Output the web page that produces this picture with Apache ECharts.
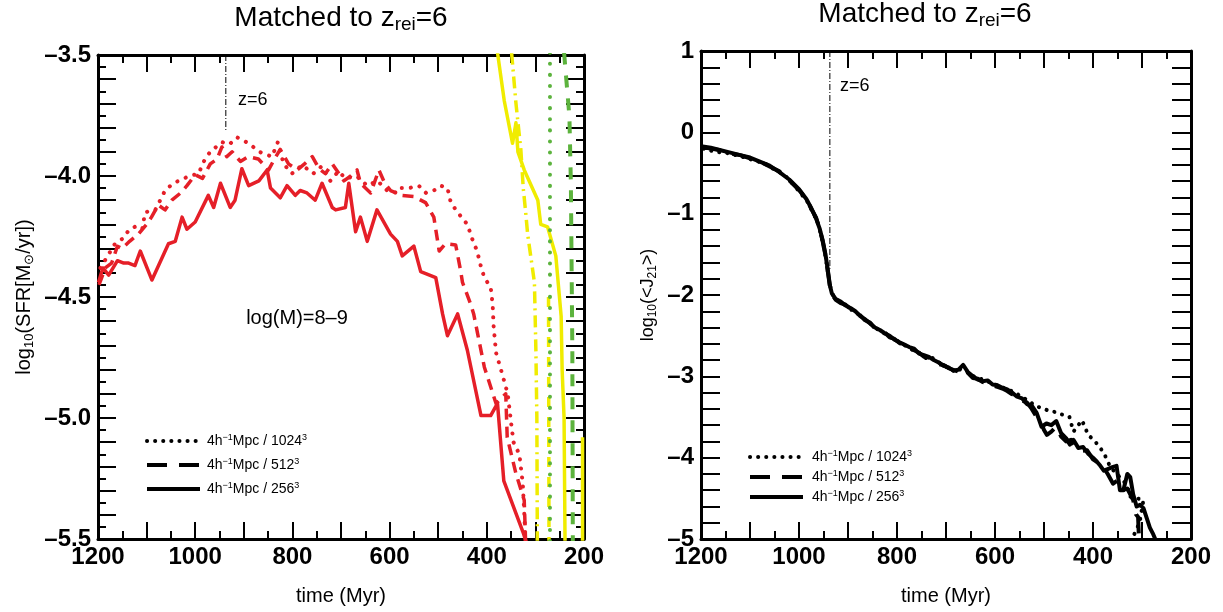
<!DOCTYPE html>
<html>
<head>
<meta charset="utf-8">
<script src="https://cdn.jsdelivr.net/npm/echarts@6/dist/echarts.min.js"></script>
<style>html,body{margin:0;padding:0;background:#fff;}#c{width:1223px;height:612px;}</style>
</head>
<body>
<div id="c"></div>
<script>
const FONT = '"Liberation Sans", Arial, Helvetica, sans-serif';

// ---- tick labels ----
const xLabelValues = [1200, 1000, 800, 600, 400, 200];
const sfrLabelValues = [-3.5, -4.0, -4.5, -5.0, -5.5];
const j21LabelValues = [1, 0, -1, -2, -3, -4, -5];

// ---- legend ----
const legendKeys = ['1024', '512', '256'];
const legendLabels = {
  '1024': '4h{sup|−1}Mpc / 1024{sup|3}',
  '512': '4h{sup|−1}Mpc / 512{sup|3}',
  '256': '4h{sup|−1}Mpc / 256{sup|3}'
};

// ---- z=6 marker ----
const zTime = 937;
const zLineSfr = [[zTime, -3.5], [zTime, -3.81]];
const zLineJ21 = [[zTime, 1], [zTime, -1.68]];

// ---- left panel: log10 SFR, log(M)=8-9 (red) ----
const sfr1024 = [[1195,-4.38],[1180,-4.33],[1165,-4.28],[1150,-4.26],[1135,-4.22],[1124,-4.21],[1109,-4.22],[1103,-4.15],[1082,-4.14],[1062,-4.06],[1045,-4.03],[1034,-4.02],[1012,-4.00],[993,-3.99],[980,-3.93],[969,-3.90],[945,-3.86],[930,-3.87],[914,-3.84],[890,-3.865],[868,-3.90],[842,-3.92],[830,-3.86],[818,-3.95],[801,-3.99],[780,-3.955],[757,-3.99],[740,-3.96],[722,-4.02],[705,-3.98],[691,-4.01],[668,-4.00],[646,-4.04],[625,-4.02],[605,-4.06],[584,-4.07],[577,-4.05],[560,-4.05],[540,-4.04],[525,-4.07],[509,-4.06],[495,-4.04],[481,-4.05],[474,-4.11],[460,-4.15],[440,-4.20],[430,-4.26],[420,-4.31],[412,-4.375],[405,-4.42],[392,-4.46],[388,-4.53],[386,-4.62],[381,-4.73],[368,-4.82],[357,-4.90],[350,-5.02],[345,-5.10],[333,-5.15],[326,-5.27],[323,-5.39],[320,-5.52]];
const sfr512 = [[1198,-4.45],[1185,-4.38],[1172,-4.36],[1160,-4.29],[1151,-4.30],[1135,-4.27],[1117,-4.24],[1100,-4.20],[1090,-4.17],[1076,-4.12],[1062,-4.14],[1048,-4.10],[1030,-4.07],[1017,-4.04],[1000,-3.995],[985,-4.01],[969,-3.95],[955,-3.93],[945,-3.88],[935,-3.92],[924,-3.90],[907,-3.94],[891,-3.92],[870,-3.93],[849,-3.975],[837,-3.93],[825,-3.89],[808,-3.95],[790,-3.975],[775,-3.95],[759,-3.92],[745,-3.97],[732,-3.99],[718,-3.95],[694,-4.02],[680,-4.00],[667,-3.975],[660,-4.03],[639,-4.07],[622,-3.975],[610,-4.03],[598,-4.06],[575,-4.08],[550,-4.085],[526,-4.11],[509,-4.17],[498,-4.31],[485,-4.28],[464,-4.285],[454,-4.39],[450,-4.44],[433,-4.53],[427,-4.57],[419,-4.65],[405,-4.79],[381,-4.94],[361,-4.90],[358,-5.08],[340,-5.23],[323,-5.34],[320,-5.52]];
const sfr256 = [[1199,-4.44],[1190,-4.38],[1178,-4.41],[1160,-4.35],[1147,-4.36],[1137,-4.36],[1124,-4.37],[1113,-4.31],[1089,-4.43],[1055,-4.28],[1041,-4.27],[1027,-4.17],[1017,-4.22],[1000,-4.19],[973,-4.08],[962,-4.13],[948,-4.03],[928,-4.13],[918,-4.10],[904,-3.97],[890,-4.04],[869,-4.02],[852,-3.975],[845,-4.05],[825,-4.09],[811,-4.04],[794,-4.08],[784,-4.06],[770,-4.07],[753,-4.10],[739,-4.03],[718,-4.13],[711,-4.14],[691,-4.13],[684,-4.03],[670,-4.23],[660,-4.17],[646,-4.27],[626,-4.14],[598,-4.24],[584,-4.27],[574,-4.33],[550,-4.29],[536,-4.395],[505,-4.42],[491,-4.57],[481,-4.66],[460,-4.57],[440,-4.72],[412,-4.99],[392,-4.99],[378,-4.94],[365,-5.26],[324,-5.48],[318,-5.52]];

// ---- left panel: other mass bins (yellow / green) ----
const yellowSolid = [[378,-3.49],[364,-3.69],[347,-3.865],[340,-3.78],[336,-3.90],[323,-3.975],[295,-4.10],[289,-4.20],[275,-4.21],[258,-4.33],[247,-4.58],[245,-4.80],[241,-5.0],[239,-5.52]];
const yellowDashDot = [[349,-3.49],[340,-3.70],[330,-3.89],[325,-4.05],[320,-4.15],[316,-4.24],[302,-4.44],[299,-4.72],[297,-5.0],[296,-5.52]];
const yellowDashed = [[273,-4.50],[272,-5.52]];
const yellowEdge = [[203,-5.08],[203,-5.52]];
const greenDotted = [[270,-3.49],[270,-5.52]];
const greenDashed = [[241,-3.49],[230,-3.755],[227,-4.03],[224,-4.72],[223,-5.52]];

// ---- right panel: log10 <J21> ----
const j21_1024 = [[1195,-0.20],[1171,-0.24],[1150,-0.25],[1130,-0.28],[1110,-0.31],[1090,-0.35],[1070,-0.38],[1050,-0.46],[1030,-0.52],[1010,-0.65],[995,-0.76],[982,-0.86],[972,-0.98],[962,-1.10],[955,-1.26],[949,-1.42],[944,-1.60],[939,-1.80],[935,-1.93],[929,-2.03],[920,-2.07],[910,-2.11],[900,-2.14],[890,-2.20],[880,-2.23],[870,-2.28],[860,-2.33],[850,-2.37],[840,-2.42],[830,-2.46],[820,-2.49],[810,-2.53],[800,-2.56],[790,-2.60],[780,-2.63],[770,-2.67],[760,-2.69],[750,-2.73],[740,-2.78],[730,-2.76],[720,-2.82],[710,-2.84],[700,-2.88],[690,-2.91],[680,-2.95],[670,-2.91],[660,-2.92],[650,-2.98],[640,-3.01],[630,-3.03],[620,-3.04],[610,-3.08],[600,-3.10],[590,-3.12],[580,-3.15],[570,-3.17],[560,-3.20],[545,-3.25],[530,-3.31],[515,-3.37],[500,-3.40],[488,-3.43],[475,-3.44],[461,-3.475],[448,-3.50],[440,-3.68],[432,-3.62],[423,-3.54],[418,-3.60],[410,-3.72],[399,-3.78],[386,-3.87],[375,-3.98],[365,-4.11],[352,-4.20],[340,-4.27],[330,-4.35],[324,-4.48],[310,-4.50],[297,-4.52],[305,-4.80],[318,-4.97]];
const j21_512 = [[1200,-0.18],[1180,-0.20],[1160,-0.22],[1140,-0.26],[1120,-0.28],[1100,-0.32],[1080,-0.36],[1060,-0.42],[1040,-0.48],[1020,-0.59],[1000,-0.71],[985,-0.82],[975,-0.94],[965,-1.05],[958,-1.19],[952,-1.33],[946,-1.51],[941,-1.72],[937,-1.89],[933,-1.99],[925,-2.06],[915,-2.10],[905,-2.12],[895,-2.17],[885,-2.22],[875,-2.25],[865,-2.31],[855,-2.34],[845,-2.41],[835,-2.45],[825,-2.46],[815,-2.52],[805,-2.54],[795,-2.59],[785,-2.62],[775,-2.65],[765,-2.68],[755,-2.71],[745,-2.76],[735,-2.77],[725,-2.79],[715,-2.85],[705,-2.86],[695,-2.90],[685,-2.92],[675,-2.94],[665,-2.90],[655,-2.96],[645,-3.02],[635,-3.03],[625,-3.07],[615,-3.08],[605,-3.11],[595,-3.13],[585,-3.15],[575,-3.18],[565,-3.22],[555,-3.24],[545,-3.30],[535,-3.32],[525,-3.40],[515,-3.50],[508,-3.54],[500,-3.66],[494,-3.72],[485,-3.68],[475,-3.62],[465,-3.74],[455,-3.80],[445,-3.78],[435,-3.88],[425,-3.92],[412,-3.91],[400,-4.02],[390,-4.06],[379,-4.11],[370,-4.20],[359,-4.32],[350,-4.28],[340,-4.40],[330,-4.38],[318,-4.52],[312,-4.70],[308,-4.73],[306,-5.02]];
const j21_256 = [[1200,-0.17],[1180,-0.19],[1160,-0.22],[1140,-0.25],[1120,-0.28],[1100,-0.31],[1080,-0.36],[1060,-0.41],[1040,-0.49],[1020,-0.58],[1000,-0.70],[985,-0.82],[975,-0.93],[965,-1.06],[958,-1.18],[952,-1.32],[946,-1.50],[941,-1.70],[937,-1.88],[933,-1.98],[925,-2.05],[915,-2.08],[905,-2.13],[895,-2.16],[885,-2.20],[875,-2.26],[865,-2.30],[855,-2.35],[845,-2.40],[835,-2.43],[825,-2.47],[815,-2.50],[805,-2.55],[795,-2.58],[785,-2.61],[775,-2.64],[765,-2.66],[755,-2.72],[745,-2.74],[735,-2.76],[725,-2.80],[715,-2.83],[705,-2.87],[695,-2.89],[685,-2.93],[675,-2.92],[665,-2.86],[655,-2.95],[645,-3.00],[635,-3.04],[625,-3.06],[615,-3.05],[605,-3.10],[595,-3.11],[585,-3.14],[575,-3.16],[565,-3.20],[555,-3.25],[545,-3.27],[535,-3.34],[525,-3.36],[515,-3.45],[505,-3.62],[495,-3.58],[485,-3.60],[475,-3.55],[465,-3.70],[455,-3.76],[447,-3.84],[440,-3.78],[430,-3.88],[420,-3.87],[410,-3.95],[400,-4.00],[392,-4.05],[385,-4.10],[378,-4.16],[370,-4.14],[362,-4.12],[352,-4.10],[345,-4.40],[338,-4.40],[330,-4.20],[324,-4.24],[318,-4.45],[311,-4.60],[304,-4.58],[297,-4.62],[290,-4.75],[284,-4.86],[278,-4.93],[273,-5.0]];

// ---- styles ----
const RED = '#e51f28', YELLOW = '#f0ec00', GREEN = '#5cb33d';
const DOT = [0.1, 9], DASH = [11, 7], DASHDOT = [12, 5, 2, 5];

const chart = echarts.init(document.getElementById('c'), null, {renderer: 'canvas'});

function near(list, v) { return list.some(t => Math.abs(t - v) < 1e-6); }
function dashNum(v, digits) {
  const s = Math.abs(v).toFixed(digits);
  return v < -1e-9 ? '–' + s : s;
}
const nameStyle = {fontFamily: FONT, fontSize: 20, color: '#000'};

function xAxis(gridIndex, position, labels) {
  return {
    type: 'value', gridIndex, position, min: 200, max: 1200, interval: 100, inverse: true,
    axisLine: {show: true, onZero: false, lineStyle: {color: '#000', width: 3}},
    axisTick: {show: true, inside: true, length: 17, lineStyle: {color: '#000', width: 2}},
    minorTick: {show: true, splitNumber: 2, length: 8, lineStyle: {color: '#000', width: 2}},
    splitLine: {show: false}, minorSplitLine: {show: false},
    axisLabel: {show: labels, margin: 6, fontFamily: FONT, fontWeight: 'bold', fontSize: 24, color: '#000',
      formatter: v => near(xLabelValues, v) ? String(Math.round(v)) : ''},
    name: labels ? 'time (Myr)' : '', nameLocation: 'middle', nameGap: 47, nameTextStyle: nameStyle
  };
}
function yAxis(gridIndex, position, labels, cfg) {
  return Object.assign({
    type: 'value', gridIndex, position,
    axisLine: {show: true, onZero: false, lineStyle: {color: '#000', width: 3}},
    splitLine: {show: false}, minorSplitLine: {show: false},
    nameLocation: 'middle', nameRotate: 90
  }, cfg, {
    axisLabel: Object.assign({show: labels, margin: 7, fontFamily: FONT, fontWeight: 'bold', fontSize: 24, color: '#000'}, cfg.axisLabel),
    name: labels ? cfg.name : ''
  });
}

const sfrY = {
  min: -5.5, max: -3.5, interval: 0.1,
  axisTick: {show: true, inside: true, length: 18, lineStyle: {color: '#000', width: 2}},
  minorTick: {show: true, splitNumber: 2, length: 8, lineStyle: {color: '#000', width: 2}},
  axisLabel: {formatter: v => near(sfrLabelValues, v) ? dashNum(v, 1) : ''},
  name: 'log{s|10}(SFR[M{s|⊙}/yr])', nameGap: 62,
  nameTextStyle: Object.assign({}, nameStyle, {lineHeight: 24, rich: {s: {fontFamily: FONT, fontSize: 13, verticalAlign: 'bottom', lineHeight: 16}}})
};
const j21Y = {
  min: -5, max: 1, interval: 0.2,
  axisTick: {show: true, inside: true, length: 19, lineStyle: {color: '#000', width: 2}},
  minorTick: {show: false},
  axisLabel: {formatter: v => near(j21LabelValues, v) ? dashNum(v, 0) : ''},
  name: 'log{s|10}(<J{s|21}>)', nameGap: 42,
  nameTextStyle: Object.assign({}, nameStyle, {fontSize: 18, lineHeight: 22, rich: {s: {fontFamily: FONT, fontSize: 12, verticalAlign: 'bottom', lineHeight: 14}}})
};

function line(name, data, xi, yi, color, width, type, cap) {
  return {
    name, type: 'line', data, xAxisIndex: xi, yAxisIndex: yi,
    symbol: 'none', showSymbol: false, smooth: false, clip: true, silent: true,
    lineStyle: {color, width, type, cap: cap || 'butt', join: 'round'},
    itemStyle: {color}
  };
}

const legendBase = {
  data: legendKeys, orient: 'vertical', itemWidth: 53, itemHeight: 14, selectedMode: false, padding: 0,
  formatter: n => legendLabels[n],
  lineStyle: {width: 4},
  itemStyle: {opacity: 0, borderWidth: 0},
  textStyle: {fontFamily: FONT, fontSize: 14, color: '#000', lineHeight: 16,
    rich: {sup: {fontFamily: FONT, fontSize: 9, verticalAlign: 'top', lineHeight: 9}}}
};

const option = {
  animation: false,
  backgroundColor: '#fff',
  grid: [
    {left: 98, top: 55, width: 486, height: 484, containLabel: false},
    {left: 701, top: 51, width: 490, height: 488, containLabel: false}
  ],
  xAxis: [xAxis(0, 'bottom', true), xAxis(0, 'top', false), xAxis(1, 'bottom', true), xAxis(1, 'top', false)],
  yAxis: [yAxis(0, 'left', true, sfrY), yAxis(0, 'right', false, sfrY), yAxis(1, 'left', true, j21Y), yAxis(1, 'right', false, j21Y)],
  legend: [
    Object.assign({}, legendBase, {left: 145, top: 433, itemGap: 8, textStyle: Object.assign({}, legendBase.textStyle, {padding: [0, 0, 0, 2]})}),
    Object.assign({}, legendBase, {left: 748, top: 449, itemGap: 4, textStyle: Object.assign({}, legendBase.textStyle, {padding: [0, 0, 0, 4]})})
  ],
  series: [
    line('zline-sfr', zLineSfr, 0, 0, '#000', 1, [6, 2, 1, 2]),
    line('yellow-solid', yellowSolid, 0, 0, YELLOW, 3.5, 'solid'),
    line('yellow-dashdot', yellowDashDot, 0, 0, YELLOW, 3.5, DASHDOT),
    line('yellow-dashed', yellowDashed, 0, 0, YELLOW, 3.5, [10, 10]),
    line('yellow-edge', yellowEdge, 0, 0, YELLOW, 3.5, 'solid'),
    line('green-dotted', greenDotted, 0, 0, GREEN, 4, [0.1, 11], 'round'),
    line('green-dashed', greenDashed, 0, 0, GREEN, 4, [12, 11]),
    line('red-1024', sfr1024, 0, 0, RED, 4, DOT, 'round'),
    line('red-512', sfr512, 0, 0, RED, 3.5, DASH),
    line('red-256', sfr256, 0, 0, RED, 3.5, 'solid'),
    line('zline-j21', zLineJ21, 2, 2, '#000', 1, [6, 2, 1, 2]),
    line('1024', j21_1024, 2, 2, '#000', 4, [0.1, 8], 'round'),
    line('512', j21_512, 2, 2, '#000', 4, [20, 12]),
    line('256', j21_256, 2, 2, '#000', 4, 'solid')
  ],
  graphic: [
    {type: 'text', x: 341, y: 18, style: {text: 'Matched to z{sub|rei}=6', fontFamily: FONT, fontSize: 28, fill: '#000', align: 'center', verticalAlign: 'middle', lineHeight: 32,
      rich: {sub: {fontFamily: FONT, fontSize: 19, fill: '#000', verticalAlign: 'bottom', lineHeight: 18}}}},
    {type: 'text', x: 925, y: 14, style: {text: 'Matched to z{sub|rei}=6', fontFamily: FONT, fontSize: 28, fill: '#000', align: 'center', verticalAlign: 'middle', lineHeight: 32,
      rich: {sub: {fontFamily: FONT, fontSize: 19, fill: '#000', verticalAlign: 'bottom', lineHeight: 18}}}},
    {type: 'text', x: 238, y: 100, style: {text: 'z=6', fontFamily: FONT, fontSize: 18, fill: '#000', align: 'left', verticalAlign: 'middle'}},
    {type: 'text', x: 840, y: 86, style: {text: 'z=6', fontFamily: FONT, fontSize: 18, fill: '#000', align: 'left', verticalAlign: 'middle'}},
    {type: 'text', x: 297, y: 318, style: {text: 'log(M)=8–9', fontFamily: FONT, fontSize: 20, fill: '#000', align: 'center', verticalAlign: 'middle'}}
  ]
};
chart.setOption(option);
</script>
</body>
</html>
